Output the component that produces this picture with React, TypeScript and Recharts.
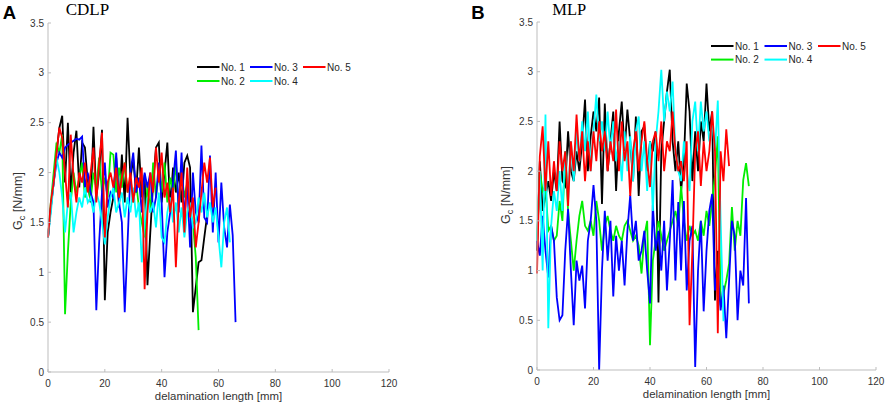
import React from "react"
import { LineChart, Line, XAxis, YAxis, Legend } from "recharts"

const xTicks = [0, 20, 40, 60, 80, 100, 120]
const yTicks = [0, 0.5, 1, 1.5, 2, 2.5, 3, 3.5]
const seriesNames = ["No. 1", "No. 2", "No. 3", "No. 4", "No. 5"]
const seriesColors = ["#000000", "#00ee00", "#0000ff", "#00ffff", "#ff0000"]

// CDLP specimens, one reading per mm of delamination
const cdlp1 = [1.35, 1.65, 1.9, 2.2, 2.45, 2.57, 1.9, 2.5, 1.8, 2.2, 2.42, 1.85, 2.3, 2.25, 1.9, 1.7, 2.46, 1.75, 2.0, 2.43,
  0.72, 1.4, 1.6, 1.75, 2.15, 1.65, 2.18, 1.7, 2.55, 1.95, 2.13, 1.8, 2.25, 1.75, 1.98, 0.87, 1.4, 1.9, 2.25, 2.3,
  1.7, 2.0, 2.3, 1.65, 2.05, 1.8, 2.0, 1.7, 2.1, 2.17, 2.05, 0.6, 0.85, 1.1, 1.12, 1.35, 1.57]
const cdlp2 = [1.35, 1.7, 2.0, 2.3, 2.2, 2.38, 0.58, 1.2, 1.7, 2.0, 1.8, 1.95, 2.1, 1.75, 1.9, 1.72, 2.0, 1.85, 2.15, 1.8,
  1.95, 1.75, 2.2, 2.18, 1.8, 2.05, 1.85, 2.1, 1.8, 1.95, 1.7, 1.9, 1.65, 1.5, 1.35, 1.9, 1.6, 2.1, 1.75, 2.0,
  1.8, 2.1, 1.7, 1.95, 1.8, 2.1, 1.65, 2.0, 1.75, 1.9, 1.6, 1.5, 1.15, 0.42]
const cdlp3 = [1.35, 1.65, 1.9, 2.1, 2.2, 2.15, 2.25, 2.28, 2.3, 2.32, 2.34, 2.33, 2.36, 1.85, 2.0, 1.8, 1.7, 0.62, 1.3, 1.8,
  2.1, 1.65, 1.8, 1.75, 2.2, 1.7, 1.5, 0.6, 1.3, 2.0, 2.2, 1.8, 1.95, 1.6, 2.0, 1.85, 2.0, 1.6, 1.75, 2.1,
  1.7, 0.95, 1.4, 1.6, 1.9, 2.22, 1.6, 2.2, 1.55, 1.9, 1.25, 2.0, 1.6, 1.5, 2.27, 1.55, 1.5, 2.17, 1.4, 2.0,
  1.3, 1.9, 1.45, 1.25, 1.68, 1.37, 0.5]
const cdlp4 = [1.35, 1.6, 1.9, 2.15, 2.0, 1.75, 1.4, 1.7, 1.8, 1.4, 1.6, 1.75, 1.65, 1.85, 1.7, 1.75, 1.6, 1.8, 1.7, 1.5,
  1.28, 1.55, 1.75, 1.85, 1.6, 1.7, 1.8, 1.55, 1.75, 1.6, 1.85, 1.55, 1.7, 1.1, 1.5, 1.75, 1.6, 1.7, 1.45, 1.8,
  1.35, 1.3, 1.6, 1.75, 1.5, 1.7, 1.4, 1.65, 1.35, 1.6, 1.7, 1.45, 1.5, 1.75, 1.6, 1.8, 1.55, 1.7, 1.5, 1.65,
  1.35, 1.05, 1.5, 1.65, 1.3]
const cdlp5 = [1.35, 1.7, 1.9, 2.2, 2.45, 2.35, 2.0, 1.65, 2.38, 1.95, 1.7, 2.0, 1.9, 2.1, 1.8, 2.0, 2.25, 1.7, 2.1, 2.4,
  1.35, 1.9, 2.0, 1.85, 2.05, 1.75, 1.95, 2.1, 1.8, 2.0, 1.7, 1.95, 1.85, 2.05, 0.83, 1.6, 2.0, 1.8, 2.25, 1.9,
  2.2, 1.75, 1.9, 1.6, 1.85, 1.05, 1.7, 2.0, 1.4, 2.05, 1.55, 1.75, 1.25, 1.5, 1.8, 2.1, 1.9, 2.15, 1.65, 1.85]

// MLP specimens, one reading per mm of delamination
const mlp1 = [1.2, 2.1, 1.6, 1.75, 1.9, 1.7, 2.0, 1.8, 2.5, 1.9, 1.85, 2.4, 2.0, 1.9, 2.2, 2.0, 2.3, 2.72, 2.0, 2.35,
  2.6, 2.4, 2.74, 1.67, 2.68, 2.0, 2.3, 2.6, 1.8, 2.4, 2.7, 2.2, 2.62, 2.3, 1.9, 2.55, 1.75, 2.4, 2.45, 2.0,
  2.3, 2.2, 2.4, 0.68, 2.2, 2.5, 2.8, 3.02, 2.3, 2.0, 2.3, 1.8, 2.1, 2.88, 2.6, 1.9, 2.4, 2.0, 2.5, 2.3,
  2.88, 2.4, 2.6, 0.7, 1.2]
const mlp2 = [1.3, 2.0, 1.8, 1.85, 1.4, 1.45, 1.3, 1.35, 1.7, 1.5, 2.2, 1.6, 1.3, 1.0, 1.3, 1.55, 1.7, 1.45, 1.4, 1.5,
  1.35, 1.7, 1.5, 1.2, 1.45, 1.55, 1.4, 1.3, 1.45, 1.35, 1.3, 1.45, 1.5, 1.4, 1.3, 1.35, 1.25, 0.97, 1.35, 1.5,
  0.25, 1.1, 1.3, 1.5, 1.35, 1.2, 1.3, 1.4, 1.5, 1.6, 1.45, 1.85, 1.5, 1.3, 1.45, 1.35, 1.4, 1.3, 1.5, 1.35,
  1.6, 1.45, 1.7, 1.95, 2.35, 0.65, 0.77, 0.9, 1.07, 1.64, 1.2, 1.5, 1.35, 1.91, 2.08, 1.85]
const mlp3 = [1.3, 1.15, 1.55, 1.2, 0.93, 1.45, 1.3, 0.73, 0.5, 0.55, 1.2, 1.62, 1.0, 0.45, 1.1, 0.9, 1.05, 0.62, 1.3, 1.5,
  1.86, 1.5, 0.0, 1.0, 1.6, 1.1, 1.5, 0.74, 1.35, 1.0, 1.3, 0.85, 1.4, 1.76, 1.3, 1.5, 1.1, 1.2, 1.4, 1.0,
  0.67, 1.66, 1.2, 1.4, 1.0, 1.5, 0.8, 1.3, 1.91, 0.9, 1.69, 1.0, 1.7, 0.8, 1.3, 1.45, 0.03, 1.0, 1.5, 0.59,
  1.2, 1.6, 1.77, 0.8, 1.0, 0.6, 0.85, 0.32, 0.9, 1.5, 1.35, 0.5, 1.0, 0.85, 1.73, 0.67]
const mlp4 = [1.3, 2.0, 1.0, 2.57, 0.42, 1.45, 1.8, 1.6, 2.0, 1.6, 2.2, 1.7, 2.3, 1.9, 2.4, 2.1, 2.5, 2.2, 2.6, 2.0,
  2.4, 2.77, 2.3, 2.5, 2.2, 2.6, 2.2, 2.5, 2.1, 2.3, 1.9, 2.4, 2.0, 2.35, 1.9, 2.4, 2.55, 2.0, 2.3, 1.8,
  2.3, 1.6, 2.3, 2.6, 3.02, 2.5, 2.8, 2.6, 2.9, 2.2, 2.0, 1.9, 2.3, 2.0, 1.8, 2.5, 2.7, 2.2, 2.7, 2.4,
  2.6, 2.3, 2.5, 2.2, 2.71, 1.5, 0.49]
const mlp5 = [0.97, 2.15, 2.45, 1.8, 2.3, 1.75, 2.1, 1.8, 2.3, 2.0, 2.2, 1.65, 2.3, 2.0, 2.57, 2.1, 2.4, 1.9, 2.3, 2.0,
  2.4, 2.1, 2.5, 2.2, 2.4, 2.0, 2.3, 2.1, 2.62, 2.0, 2.5, 2.1, 2.3, 1.75, 2.2, 2.4, 2.0, 2.3, 2.5, 2.1,
  1.84, 2.3, 2.4, 2.1, 2.5, 2.0, 2.3, 2.2, 2.6, 2.2, 2.0, 2.1, 1.9, 2.3, 0.45, 1.2, 2.2, 2.4, 1.85, 2.3,
  2.0, 2.2, 2.6, 2.2, 0.37, 2.2, 1.9, 2.42, 2.05]

const cdlpSeries = [cdlp1, cdlp2, cdlp3, cdlp4, cdlp5]
const mlpSeries = [mlp1, mlp2, mlp3, mlp4, mlp5]

const sans = "'Liberation Sans', Arial, sans-serif"
const serif = "'Liberation Serif', 'Times New Roman', serif"
const axisGray = "#bdbdbd"
const textGray = "#333333"

const toPoints = (vals: number[]) => vals.map((y, i) => ({ x: i, y }))

// rotated "G_c [N/mm]" axis title, x is the baseline
function GcLabel({ x, y }: { x: number; y: number }) {
  return (
    <text x={x} y={y} transform={`rotate(-90 ${x} ${y})`} textAnchor="middle" fill={textGray} fontSize={12.5} fontFamily={sans}>
      G<tspan fontSize={9} dy={3}>c</tspan>
      <tspan dy={-3}> [N/mm]</tspan>
    </text>
  )
}

function LegendBox({ rowGap, colGap }: any) {
  return (
    <svg width={175} height={32}>
      {seriesNames.map((n, i) => {
        const col = Math.floor(i / 2)
        const row = i % 2
        const x0 = col * colGap
        const y0 = 7 + row * rowGap
        return (
          <g key={n}>
            <line x1={x0} x2={x0 + 22.5} y1={y0} y2={y0} stroke={seriesColors[i]} strokeWidth={2} />
            <text x={x0 + 24} y={y0} dominantBaseline="central" fontSize={10} fill="#262626" fontFamily={sans}>
              {n}
            </text>
          </g>
        )
      })}
    </svg>
  )
}

function Panel({ series, left, margin, yAxisWidth, xAxisHeight, xLabelOffset, legendPos, legendGaps }: any) {
  return (
    <div style={{ position: "absolute", left, top: 0 }}>
      <LineChart width={443} height={406} margin={margin}>
        <XAxis
          type="number"
          dataKey="x"
          domain={[0, 120]}
          ticks={xTicks}
          interval={0}
          height={xAxisHeight}
          stroke={axisGray}
          tickSize={-3}
          tickMargin={10.5}
          tick={{ fill: textGray, fontSize: 10, fontFamily: sans }}
          label={{ value: "delamination length [mm]", position: "insideBottom", offset: xLabelOffset, fill: textGray, fontSize: 11.4, fontFamily: sans }}
        />
        <YAxis
          type="number"
          domain={[0, 3.5]}
          ticks={yTicks}
          interval={0}
          width={yAxisWidth}
          stroke={axisGray}
          tickSize={-3}
          tickMargin={7}
          tick={{ fill: textGray, fontSize: 10, fontFamily: sans }}
        />
        <Legend
          layout="horizontal"
          verticalAlign="middle"
          align="center"
          content={<LegendBox rowGap={legendGaps[0]} colGap={legendGaps[1]} />}
          wrapperStyle={{ left: legendPos[0], top: legendPos[1], width: 175, height: 32 }}
        />
        {series.map((vals: number[], i: number) => (
          <Line
            key={seriesNames[i]}
            data={toPoints(vals)}
            dataKey="y"
            name={seriesNames[i]}
            type="linear"
            stroke={seriesColors[i]}
            strokeWidth={1.8}
            dot={false}
            activeDot={false}
            isAnimationActive={false}
          />
        ))}
      </LineChart>
    </div>
  )
}

export default function App() {
  return (
    <div style={{ position: "relative", width: 886, height: 406, background: "#fff" }}>
      <style>{"body{margin:0}"}</style>
      <Panel
        series={cdlpSeries}
        left={0}
        margin={{ top: 23, right: 54, bottom: 0, left: 0 }}
        yAxisWidth={48}
        xAxisHeight={34}
        xLabelOffset={6}
        legendPos={[197, 60]}
        legendGaps={[14, 53]}
      />
      <Panel
        series={mlpSeries}
        left={443}
        margin={{ top: 22, right: 10, bottom: 0, left: 0 }}
        yAxisWidth={94}
        xAxisHeight={36}
        xLabelOffset={8}
        legendPos={[268, 38.5]}
        legendGaps={[13.6, 53.5]}
      />
      <svg width={886} height={406} style={{ position: "absolute", left: 0, top: 0, pointerEvents: "none" }}>
        <text x={2.7} y={19.3} fontSize={18.5} fontWeight="bold" fontFamily={sans} fill="#000">A</text>
        <text x={65.7} y={14.6} fontSize={17} fontFamily={serif} fill="#000">CDLP</text>
        <text x={471.3} y={19.3} fontSize={18.5} fontWeight="bold" fontFamily={sans} fill="#000">B</text>
        <text x={552.3} y={14.6} fontSize={16.5} fontFamily={serif} fill="#000">MLP</text>
        <GcLabel x={21.8} y={201} />
        <GcLabel x={509.8} y={195} />
      </svg>
    </div>
  )
}
